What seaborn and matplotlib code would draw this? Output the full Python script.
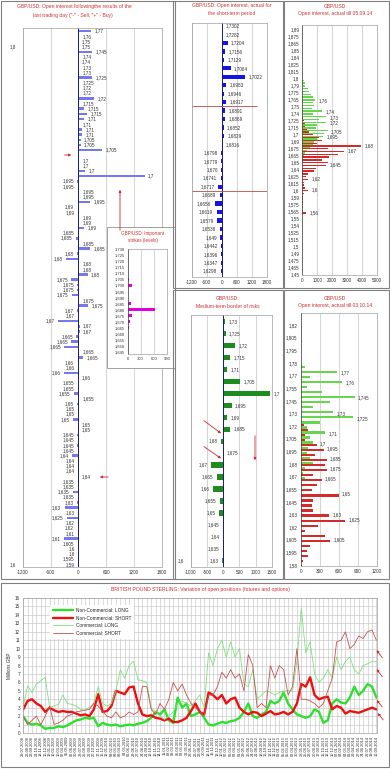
import numpy as np
import pandas as pd
import matplotlib
matplotlib.use("Agg")
import matplotlib.pyplot as plt
import seaborn as sns
from matplotlib.patches import Rectangle, FancyArrowPatch

# ---------------- data ----------------
# Panel 1: open interest following the last trading day
p1_labels = ["1,77","1,76","1,75","1,75","1,745","1,74","1,74","1,73","1,73","1,725","1,725","1,72","1,72","1,72",
             "1,715","1,715","1,715","1,71","1,71","1,71","1,71","1,705","1,705","1,705",
             "1,7","1,7","1,7","1,7","1,695","1,695","1,695","1,695","1,695","1,69","1,69","1,69","1,69","1,69",
             "1,685","1,685","1,685","1,685","1,68","1,68","1,68","1,68","1,68","1,675","1,675","1,675","1,675","1,675","1,675",
             "1,67","1,67","1,67","1,67","1,67","1,665","1,665","1,665","1,665","1,665","1,66","1,66","1,66","1,66",
             "1,655","1,655","1,655","1,655","1,65","1,65","1,65","1,65","1,65","1,65","1,645","1,645","1,645","1,645",
             "1,64","1,64","1,64","1,64","1,64","1,635","1,635","1,635","1,635","1,63","1,63","1,63","1,625",
             "1,62","1,62","1,61","1,61","1,605","1,6","1,6","1,595","1,59"]
p1_values = [280,10,8,8,300,10,8,10,10,300,20,10,10,340,20,120,190,130,10,80,80,50,50,520,
             10,10,140,1430,-20,-15,10,10,260,-15,-10,10,10,120,-15,-50,15,260,-20,-260,15,15,200,
             -150,-20,-20,-140,15,210,-20,-10,-440,30,30,-40,-150,-300,15,110,-15,-10,-310,5,
             -15,-15,-95,15,-20,-5,-10,-110,5,5,-20,-15,-20,-5,-130,-5,-5,-5,5,-5,-5,-115,-5,
             -25,-295,-5,-240,-5,-15,-5,-310,-5,-5,-5,-5,-5]
p1_ticklabels = ["1,8", "1,6"]

# Inset: important strikes
inset_strikes = [1.705, 1.700, 1.685, 1.680, 1.675, 1.670, 1.665]
inset_values = [40, 100, 80, 620, 95, 60, 40]
inset_ticklabels = ["1,645","1,650","1,655","1,660","1,665","1,670","1,675","1,680","1,685",
                    "1,690","1,695","1,700","1,705","1,710","1,715","1,720","1,725","1,730"]

# Panel 2: short-term open interest
p2_labels = ["1,7302","1,7282","1,7204","1,7156","1,7129","1,7064","1,7022","1,6983","1,6946","1,6917",
             "1,6891","1,6869","1,6852","1,6829","1,6816","1,6798","1,6779","1,676","1,6741","1,6717",
             "1,6689","1,6656","1,6619","1,6579","1,6536","1,649","1,6442","1,6396","1,6347","1,6298"]
p2_values = [30,30,240,145,95,360,945,185,95,185,145,145,80,95,30,-15,-15,-15,-40,-145,
             -80,-280,-200,-185,-80,-55,-15,-15,-15,-40]
p2_levels = [9.5, 19.5]

# Panel 3: open interest till 05.09.14 (calls / puts)
p3_strikes = list(np.round(np.arange(1.800, 1.5575, -0.005), 3))
p3_calls = [80,100,150,200,350,450,550,700,850,700,750,650,1350,700,1600,1100,1600,1000,900,1700,
            1450,1400,1000,800,700,500,300,200,100,80,50] + [0]*18
p3_puts = [0]*14 + [60,100,150,200,300,450,700,1100,1300,1000,3950,1700,2800,2400,1800,1300,1700,1600,
                    900,800,350,250,400,100,100,150,400,100,80,60,60,50,40,40,280]
p3_label_strikes = [1.76,1.74,1.73,1.72,1.705,1.695,1.68,1.67,1.645,1.62,1.60,1.56]
p3_label_texts = ["1,76","1,74","1,73","1,72","1,705","1,695","1,68","1,67","1,645","1,62","1,6","1,56"]
p3_ticklabels = ["1,89","1,875","1,865","1,85","1,84","1,825","1,815","1,8","1,79","1,775","1,765","1,75",
                 "1,74","1,725","1,715","1,7","1,69","1,675","1,665","1,65","1,64","1,625","1,615","1,6",
                 "1,59","1,575","1,565","1,55","1,54","1,525","1,515","1,5","1,49","1,475","1,465","1,45"]

# Panel 5: medium-term border of risks
p5_labels = ["1,73","1,725","1,72","1,715","1,71","1,705","1,7","1,695","1,69","1,685","1,68",
             "1,675","1,67","1,665","1,66","1,655","1,65","1,645","1,64","1,635","1,63"]
p5_values = [50,80,360,225,125,535,1440,260,125,205,-50,5,-360,-185,-310,-100,-120,-10,-10,-10,-20]

# Panel 6: open interest till 03.10.14
p6_strikes = list(np.round(np.arange(1.800, 1.5775, -0.005), 3))
p6_calls = [25,0,0,0,0,70,570,150,650,95,330,850,460,200,515,830,300,95,380,150,200,120,100,150,200,
            60,40,60,20] + [0]*16
p6_puts = [0]*16 + [50,120,70,70,250,360,230,410,385,410,200,330,250,175,600,200,175,200,450,700,280,
                    70,385,460,150,95,120,30,20]
p6_label_strikes = [1.77,1.76,1.745,1.73,1.725,1.71,1.70,1.695,1.685,1.675,1.665,1.65,1.63,1.625,1.605]
p6_label_texts = ["1,77","1,76","1,745","1,73","1,725","1,71","1,7","1,695","1,685","1,675","1,665",
                  "1,65","1,63","1,625","1,605"]
p6_ticklabels = ["1,82","1,805","1,795","1,78","1,77","1,755","1,745","1,73","1,72","1,705","1,695",
                 "1,68","1,67","1,655","1,645","1,63","1,62","1,605","1,595","1,58"]

# Bottom: COT positions, millions GBP (every 4 weeks)
ts_dates = pd.date_range("2008-07-29", periods=81, freq="28D")
nc_long = [2.0,1.2,1.0,1.1,0.9,0.5,0.6,0.6,0.8,0.7, 0.9,1.2,1.5,1.6,1.8,1.7,1.8,0.8,1.2,1.0,
           0.9,1.0,0.8,0.9,1.0,0.9,1.1,1.2,1.4,1.8, 2.5,2.2,2.8,1.5,1.2,4.2,3.0,3.5,2.0,2.2,
           2.5,1.8,1.0,0.9,1.1,1.3,1.2,1.4,1.5,1.8, 2.5,3.5,2.0,1.8,2.2,2.5,3.8,3.5,3.8,4.8,
           3.5,2.8,2.2,2.0,1.8,2.0,2.8,2.5,1.2,1.5, 3.5,4.0,3.6,3.5,4.2,5.5,4.5,5.0,5.8,5.5, 4.2]
nc_short = [2.8,3.8,4.0,3.5,3.2,2.5,3.0,2.7,2.5,2.6, 2.5,2.5,2.3,2.1,2.2,2.0,2.8,4.6,2.5,2.6,
            3.2,5.0,4.8,4.6,5.4,5.5,3.5,2.2,2.0,2.1, 1.8,1.7,1.5,1.7,1.3,1.3,1.5,1.8,2.6,3.5,
            2.5,2.2,4.8,4.5,4.0,4.5,3.5,4.0,4.2,3.0, 2.5,2.2,2.5,2.4,2.0,2.3,2.6,2.2,2.3,2.5,
            2.2,2.5,3.5,5.8,5.5,6.6,4.5,4.0,4.2,4.3, 2.8,3.2,3.0,2.3,2.6,2.5,2.4,2.6,2.8,3.0, 2.8]
c_long = [3.0,5.6,4.8,5.8,6.2,6.6,3.0,3.2,3.4,4.5, 3.5,3.4,3.2,2.8,2.7,3.0,3.5,5.5,3.5,3.2,
          3.5,5.0,7.5,6.5,8.0,8.5,6.3,6.2,6.0,3.0, 2.5,2.0,1.6,2.0,2.5,3.5,3.8,3.5,3.2,3.8,
          4.5,3.0,9.5,8.0,10.0,11.0,9.0,10.8,9.0,10.0, 5.8,5.5,7.5,4.0,4.5,5.0,4.8,4.5,4.8,5.0,
          5.0,5.0,8.5,14.8,9.5,10.8,7.0,6.0,6.5,7.5, 6.5,9.0,7.5,8.5,9.0,7.5,7.0,8.0,8.2,8.5, 8.5]
c_short = [2.0,1.0,1.5,2.0,1.0,2.0,3.2,1.0,1.2,1.5, 2.0,2.2,2.5,2.6,2.7,2.8,3.5,3.2,2.5,2.0,
           1.8,2.5,1.8,2.0,2.5,2.2,2.5,5.5,5.5,2.8, 2.2,3.5,2.8,4.0,6.0,5.0,5.8,4.5,3.5,3.0,
           2.5,2.0,4.5,4.5,5.5,7.2,6.5,7.5,6.5,7.0, 5.0,9.3,8.0,3.0,3.5,3.0,8.0,6.5,8.0,7.5,
           4.5,5.5,10.0,4.0,4.0,3.8,3.5,3.0,3.5,5.0, 6.5,10.8,11.0,12.0,10.0,10.5,11.5,11.2,12.0,12.2, 11.0]

# ---------------- style ----------------
sns.set_theme(style="white")
plt.rcParams['font.family'] = ['Liberation Sans', 'DejaVu Sans']

W, H = 390, 769
fig = plt.figure(figsize=(W / 100, H / 100), dpi=100)
fig.patch.set_facecolor('white')

def rect(l, t, r, b):
    return [l / W, 1 - b / H, (r - l) / W, (b - t) / H]

def fxy(x, y):
    return (x / W, 1 - y / H)

FS = 3.3
TITLE_C = '#d03030'
GRID_C = '#c4c4c4'
TXT_C = '#303030'

def style(ax, xticks):
    ax.set_xticks(xticks)
    ax.set_xticklabels([str(t) for t in xticks])
    ax.tick_params(axis='both', labelsize=FS, length=1.2, width=0.4, pad=1, colors=TXT_C)
    ax.xaxis.grid(True, color=GRID_C, lw=0.5)
    ax.yaxis.grid(False)
    ax.set_axisbelow(True)
    for s in ax.spines.values():
        s.set_color('#a0a0a0')
        s.set_linewidth(0.5)
    ax.set_xlabel('')
    ax.set_ylabel('')

def bar_labels(ax, pos, vals, texts):
    for p, v, t in zip(pos, vals, texts):
        off = 2.5 if v >= 0 else -2.5
        ax.annotate(t, (v, p), xytext=(off, 0), textcoords='offset points',
                    ha='left' if v >= 0 else 'right', va='center', fontsize=FS, color=TXT_C)

def title(x, y, s, fs=3.6):
    fig.text(x / W, 1 - y / H, s, ha='center', va='center', fontsize=fs, color=TITLE_C)

# ---------------- panel 1 ----------------
ax1 = fig.add_axes(rect(22.7, 28, 161.7, 566.5))
ax1.set_zorder(0)
p1_pos = list(range(24)) + list(range(25, 104))
sns.barplot(x=p1_values, y=p1_pos, orient='y', native_scale=True, color='#7777ee', saturation=1,
            width=0.5, errorbar=None, linewidth=0, ax=ax1)
style(ax1, [-1200, -600, 0, 600, 1200, 1800])
ax1.set_xlim(-1200, 1800)
ax1.set_ylim(103.4, -0.6)
ax1.axvline(0, color='#1a1a80', lw=0.7)
ax1.set_yticks([3, 103])
ax1.set_yticklabels(p1_ticklabels)
ax1.tick_params(axis='y', length=0, pad=5)
bar_labels(ax1, p1_pos, p1_values, p1_labels)
title(74, 6.5, "GBP/USD: Open interest followingthe results of the")
title(73, 15, "last trading day (\"-\" - Sell, \"+\" - Buy)")

# inset box
fig.add_artist(Rectangle(fxy(107, 368), 68 / W, 141 / H, transform=fig.transFigure,
                         facecolor='white', edgecolor='#909090', lw=0.6, zorder=0.5))
axi = fig.add_axes(rect(127.7, 249, 166.7, 354))
axi.set_zorder(1)
sns.barplot(x=inset_values, y=inset_strikes, orient='y', native_scale=True, color='#e000e0',
            saturation=1, width=0.55, errorbar=None, linewidth=0, ax=axi)
style(axi, [0, 300, 600, 900])
axi.set_xlim(0, 900)
axi.set_ylim(1.6432, 1.7303)
axi.set_yticks(np.round(np.arange(1.645, 1.7301, 0.005), 3))
axi.set_yticklabels(inset_ticklabels)
axi.tick_params(labelsize=3.0)
axi.spines['left'].set_color('#404040')
title(143, 233.5, "GBP/USD: Important", fs=3.3)
title(143, 240.5, "strikes (levels)", fs=3.3)

# ---------------- panel 2 ----------------
ax2 = fig.add_axes(rect(191.7, 22.7, 266.7, 276.7))
p2_pos = list(range(len(p2_values)))
sns.barplot(x=p2_values, y=p2_pos, orient='y', native_scale=True, color='#1414e6', saturation=1,
            width=0.5, errorbar=None, linewidth=0, ax=ax2)
style(ax2, [-1200, -600, 0, 600, 1200, 1800])
ax2.set_xlim(-1200, 1800)
ax2.set_ylim(29.65, -0.4)
ax2.axvline(0, color='#1a1a80', lw=0.7)
ax2.axhline(p2_levels[0], xmin=0, xmax=0.87, color='#c04848', lw=0.6)
ax2.axhline(p2_levels[1], xmin=0, xmax=1.0, color='#c04848', lw=0.6)
ax2.set_yticks([29])
ax2.set_yticklabels(["1,6"])
ax2.tick_params(axis='y', length=0, pad=11)
bar_labels(ax2, p2_pos, p2_values, p2_labels)
title(232, 5.7, "GBP/USD: Open interest, actual for")
title(232, 13.5, "the short-term period")

# ---------------- panel 3 ----------------
ax3 = fig.add_axes(rect(302.3, 25, 377, 275))
df3 = pd.DataFrame({'strike': p3_strikes * 2, 'oi': p3_calls + p3_puts,
                    'kind': ['Call'] * len(p3_strikes) + ['Put'] * len(p3_strikes)})
sns.barplot(data=df3, x='oi', y='strike', hue='kind', hue_order=['Put', 'Call'], orient='y',
            native_scale=True, palette={'Call': '#66d64c', 'Put': '#d42a2a'}, saturation=1,
            width=0.95, dodge=True, errorbar=None, linewidth=0, legend=False, ax=ax3)
style(ax3, [0, 1000, 2000, 3000, 4000, 5000])
ax3.set_xlim(0, 5000)
ax3.set_ylim(1.448, 1.8952)
ax3.set_yticks(1.45 + 0.0125 * np.arange(36))
ax3.set_yticklabels(p3_ticklabels[::-1])
ax3.spines['left'].set_color('#404040')
for s, t in zip(p3_label_strikes, p3_label_texts):
    i = p3_strikes.index(s)
    v = max(p3_calls[i], p3_puts[i])
    ax3.annotate(t, (v, s), xytext=(2.5, 0), textcoords='offset points', ha='left', va='center',
                 fontsize=FS, color=TXT_C)
title(335, 6, "GBP/USD")
title(335, 13.5, "Open interest, actual till 05.09.14")

# ---------------- panel 5 ----------------
ax5 = fig.add_axes(rect(190.7, 315, 271.7, 566.7))
p5_pos = list(range(len(p5_values)))
sns.barplot(x=p5_values, y=p5_pos, orient='y', native_scale=True, color='#1c8c1c', saturation=1,
            width=0.45, errorbar=None, linewidth=0, ax=ax5)
style(ax5, [-1000, -500, 0, 500, 1000, 1500])
ax5.set_xlim(-1000, 1500)
ax5.set_ylim(20.5, -0.56)
ax5.axvline(0, color='#1a1a80', lw=0.7)
ax5.set_yticks([20])
ax5.set_yticklabels(["1,6"])
ax5.tick_params(axis='y', length=0, pad=5)
bar_labels(ax5, p5_pos, p5_values, p5_labels)
title(228, 299, "GBP/USD:")
title(228, 306, "Medium-term border of risks")

# ---------------- panel 6 ----------------
ax6 = fig.add_axes(rect(300.7, 312.7, 376.7, 565.7))
df6 = pd.DataFrame({'strike': p6_strikes * 2, 'oi': p6_calls + p6_puts,
                    'kind': ['Call'] * len(p6_strikes) + ['Put'] * len(p6_strikes)})
sns.barplot(data=df6, x='oi', y='strike', hue='kind', hue_order=['Put', 'Call'], orient='y',
            native_scale=True, palette={'Call': '#66d64c', 'Put': '#d42a2a'}, saturation=1,
            width=0.9, dodge=True, errorbar=None, linewidth=0, legend=False, ax=ax6)
style(ax6, [0, 300, 600, 900, 1200])
ax6.set_xlim(0, 1200)
ax6.set_ylim(1.5793, 1.8297)
ax6.set_yticks(1.58 + 0.0125 * np.arange(20))
ax6.set_yticklabels(p6_ticklabels[::-1])
ax6.spines['left'].set_color('#404040')
for s, t in zip(p6_label_strikes, p6_label_texts):
    i = p6_strikes.index(s)
    v = max(p6_calls[i], p6_puts[i])
    ax6.annotate(t, (v, s), xytext=(2.5, 0), textcoords='offset points', ha='left', va='center',
                 fontsize=FS, color=TXT_C)
title(335, 299, "GBP/USD")
title(335, 306, "Open interest, actual till 03.10.14")

# ---------------- bottom time series ----------------
axt = fig.add_axes(rect(23, 598, 377, 733))
sns.lineplot(x=ts_dates, y=nc_long, ax=axt, color='#2ee02e', lw=1.7, label='Non-Commercial: LONG')
sns.lineplot(x=ts_dates, y=nc_short, ax=axt, color='#ee1010', lw=1.7, label='Non-Commercial: SHORT')
sns.lineplot(x=ts_dates, y=c_long, ax=axt, color='#7ee07e', lw=0.6, label='Commercial: LONG')
sns.lineplot(x=ts_dates, y=c_short, ax=axt, color='#c85050', lw=0.6, label='Commercial: SHORT')
axt.set_xlim(ts_dates[0] - pd.Timedelta(days=1), ts_dates[-1] + pd.Timedelta(days=4))
axt.set_ylim(0, 16)
axt.set_yticks(range(0, 17))
axt.set_xticks(ts_dates)
axt.set_xticklabels([d.strftime('%d.%m.%Y') for d in ts_dates], rotation=90)
axt.tick_params(axis='both', labelsize=2.9, length=1.0, width=0.4, pad=1, colors=TXT_C)
axt.tick_params(axis='y', labelsize=3.3)
axt.grid(True, color=GRID_C, lw=0.45)
axt.set_axisbelow(True)
for s in axt.spines.values():
    s.set_color('#a0a0a0')
    s.set_linewidth(0.5)
axt.set_xlabel('')
axt.set_ylabel('Millions GBP', fontsize=3.3, color=TXT_C, labelpad=2)
leg = axt.legend(loc='upper left', bbox_to_anchor=(0.07, 0.965), fontsize=3.4, frameon=True,
                 fancybox=False, framealpha=1, edgecolor='none', handlelength=4.2,
                 borderpad=0.6, labelspacing=0.55, handletextpad=0.6)
title(200, 589.5, "BRITISH POUND STERLING: Variation of open positions (futures and options)", fs=3.7)

# ---------------- borders ----------------
for (l, t, r, b) in [(1, 1, 175, 579), (173, 1, 283, 288), (284, 1, 389, 288),
                     (173, 290, 283, 579), (284, 290, 389, 579), (1, 583, 389, 767)]:
    fig.add_artist(Rectangle(fxy(l, b), (r - l) / W, (b - t) / H, transform=fig.transFigure,
                             facecolor='none', edgecolor='#808080', lw=0.8, zorder=2))

# ---------------- arrows ----------------
arrow_c = '#d02828'
for (x0, y0, x1, y1) in [(61.7, 155, 74, 155), (120, 233, 120, 187), (111, 477, 97, 477),
                         (201.7, 419, 223.3, 435), (201.7, 445, 223.3, 460), (255, 433, 255, 463),
                         (384, 660, 375, 648), (384, 679, 375, 667), (384, 709, 375, 698),
                         (385, 722, 376, 711)]:
    fig.add_artist(FancyArrowPatch(fxy(x0, y0), fxy(x1, y1), transform=fig.transFigure,
                                   arrowstyle='-|>', mutation_scale=3.5, color=arrow_c, lw=0.6,
                                   zorder=3))

fig.savefig("out.png", dpi=100, facecolor='white')
